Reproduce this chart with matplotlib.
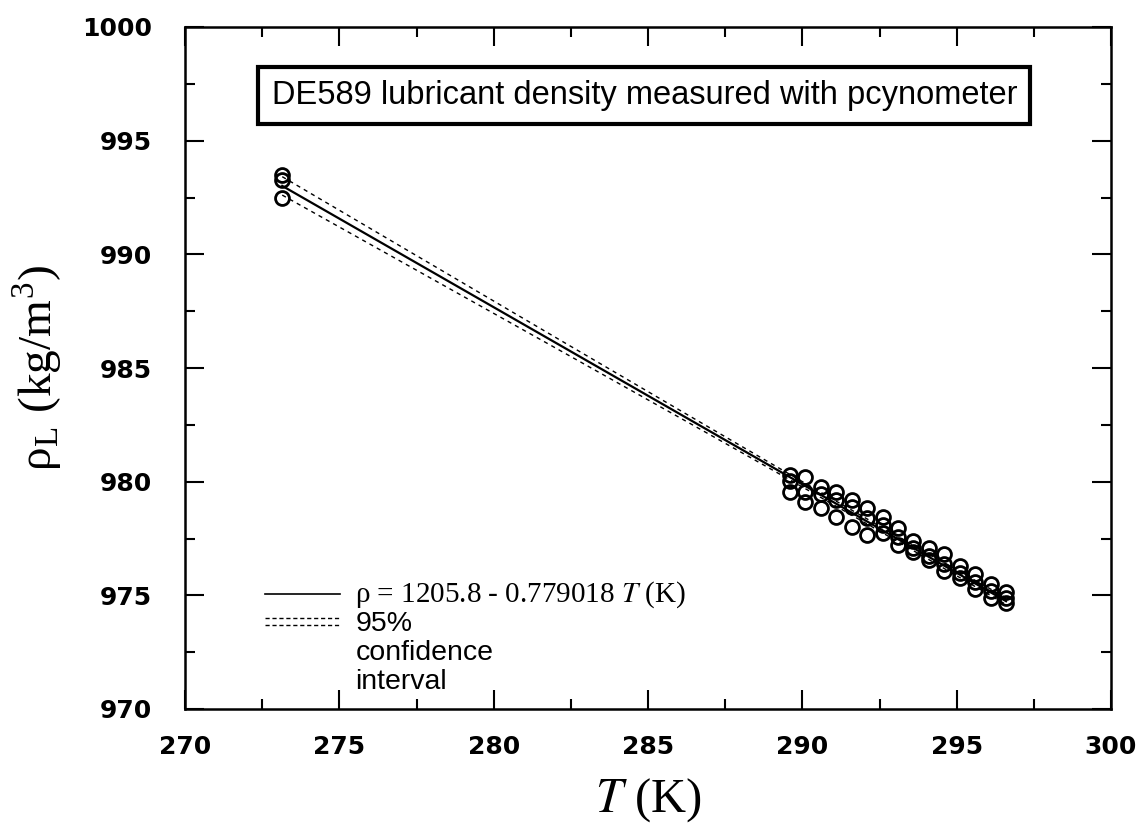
import numpy as np
import matplotlib
matplotlib.use("Agg")
import matplotlib.pyplot as plt
from matplotlib.ticker import MultipleLocator

plt.rcParams["mathtext.fontset"] = "stix"

# pycnometer measurements: one set near the ice point, then the warm runs
T_cold = [273.15, 273.15, 273.15]
rho_cold = [993.50, 993.27, 992.48]

T_warm = [289.6, 290.1, 290.6, 291.1, 291.6, 292.1, 292.6, 293.1,
          293.6, 294.1, 294.6, 295.1, 295.6, 296.1, 296.6]
rho_hi = [980.30, 980.20, 979.77, 979.55, 979.20, 978.85, 978.45, 977.95,
          977.40, 977.10, 976.80, 976.30, 975.95, 975.50, 975.15]
rho_mid = [980.05, 979.55, 979.45, 979.20, 978.90, 978.40, 978.10, 977.55,
           977.10, 976.75, 976.40, 976.00, 975.60, 975.20, 974.90]
rho_lo = [979.55, 979.10, 978.85, 978.45, 978.00, 977.65, 977.75, 977.20,
          976.90, 976.55, 976.05, 975.75, 975.30, 974.90, 974.65]

# linear fit rho = a - b*T
a_fit = 1205.8
b_fit = 0.779018
t_95 = 2.01

T_all = np.array(T_cold + T_warm * 3)
rho_all = np.array(rho_cold + rho_hi + rho_mid + rho_lo)

n = len(T_all)
resid = rho_all - (a_fit - b_fit * T_all)
s = np.sqrt(np.sum(resid ** 2) / (n - 2))
T_mean = T_all.mean()
Sxx = np.sum((T_all - T_mean) ** 2)

T_line = np.linspace(min(T_cold), max(T_warm), 200)
rho_line = a_fit - b_fit * T_line
half = t_95 * s * np.sqrt(1.0 / n + (T_line - T_mean) ** 2 / Sxx)

fig = plt.figure(figsize=(11.44, 8.34), dpi=100)
ax = fig.add_axes([185 / 1144, 1 - 709 / 834, 926 / 1144, 682 / 834])

ax.plot(T_line, rho_line, color="black", lw=1.6)
ax.plot(T_line, rho_line + half, color="black", lw=1.0, ls=(0, (3, 3)))
ax.plot(T_line, rho_line - half, color="black", lw=1.0, ls=(0, (3, 3)))

ax.plot(T_all, rho_all, ls="none", marker="o", ms=10, mfc="none",
        mec="black", mew=2.0)

ax.set_xlim(270, 300)
ax.set_ylim(970, 1000)
ax.xaxis.set_major_locator(MultipleLocator(5))
ax.xaxis.set_minor_locator(MultipleLocator(2.5))
ax.yaxis.set_major_locator(MultipleLocator(5))
ax.yaxis.set_minor_locator(MultipleLocator(2.5))
ax.tick_params(which="both", direction="in", top=True, right=True,
               width=1.5)
ax.tick_params(which="major", length=14)
ax.tick_params(which="minor", length=7)
ax.tick_params(axis="x", pad=19)
ax.tick_params(axis="y", pad=24)
for lab in ax.get_xticklabels() + ax.get_yticklabels():
    lab.set_fontfamily("DejaVu Sans")
    lab.set_fontweight("bold")
    lab.set_fontsize(18)
for sp in ax.spines.values():
    sp.set_linewidth(1.8)

ax.set_xlabel("$T$ (K)", family="Liberation Serif", fontsize=35, labelpad=12)
ax.set_ylabel(r"ρ$_\mathregular{L}$ (kg/m$^\mathregular{3}$)",
              family="Liberation Serif", fontsize=34, labelpad=12)

ax.text(0.496, 0.899, "DE589 lubricant density measured with pcynometer",
        transform=ax.transAxes, ha="center", va="center",
        family="Liberation Sans", fontsize=23.5,
        bbox=dict(boxstyle="square,pad=0.4", fc="white", ec="black", lw=3))

# hand-drawn key in the lower left
ax.plot([0.086, 0.167], [0.168, 0.168], color="black", lw=1.2,
        transform=ax.transAxes)
for yk in (0.133, 0.123):
    ax.plot([0.086, 0.167], [yk, yk], color="black", lw=1.0,
            ls=(0, (3, 2)), transform=ax.transAxes)
ax.text(0.184, 0.168, "ρ = 1205.8 - 0.779018 $T$ (K)", transform=ax.transAxes,
        va="center", family="Liberation Serif", fontsize=21)
ax.text(0.184, 0.143, "95%\nconfidence\ninterval", transform=ax.transAxes,
        va="top", family="Liberation Sans", fontsize=20.5, linespacing=1.15)

fig.savefig("out.png", dpi=100)
